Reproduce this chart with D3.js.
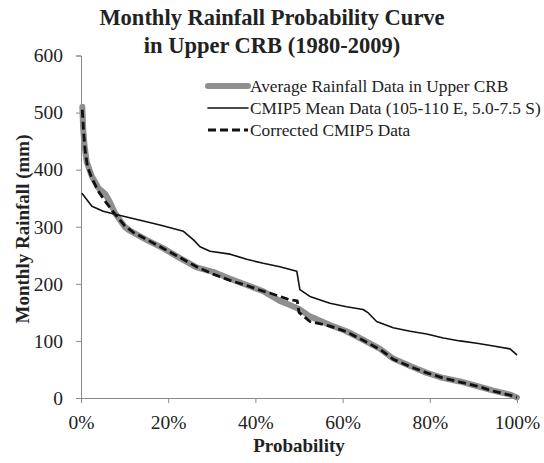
<!DOCTYPE html>
<html>
<head>
<meta charset="utf-8">
<script src="https://cdn.jsdelivr.net/npm/d3@7"></script>
<style>
  body { margin: 0; background: #fff; }
  svg text { font-family: "Liberation Serif", "Times New Roman", Times, serif; fill: #222; }
</style>
</head>
<body>
<svg id="chart" width="544" height="463"></svg>
<script>
// [probability %, rainfall mm]
const observed = [
  [0.3, 510], [0.5, 472], [0.8, 443], [1.3, 414], [2.5, 388], [4, 368], [5.5, 358],
  [6.5, 345], [7.8, 324], [8.9, 312], [10, 300], [11.2, 293], [15, 277], [18.9, 262],
  [22.7, 245], [26.5, 229], [30.3, 221], [34.2, 209], [38, 198], [41.8, 187], [45.6, 170],
  [47.9, 163], [50, 156], [52.5, 143], [57.1, 128], [60.9, 117], [64.7, 102], [68.6, 86],
  [71.6, 69], [75.5, 56], [79.3, 44], [83.1, 35], [86.9, 29], [90.8, 21], [94.6, 13],
  [98.4, 6], [100, 1]
];
const cmipMean = [
  [0.3, 358], [2.5, 336], [5.1, 327], [7.8, 322], [14.3, 310], [18.1, 303], [23.5, 292],
  [25.8, 277], [27.3, 265], [29.6, 257], [34.2, 252], [38, 243], [41.8, 236], [45.6, 230],
  [49.5, 222], [50.2, 190], [52.5, 178], [57.1, 166], [60.9, 160], [64.7, 155], [65.9, 149],
  [67.8, 134], [71.6, 123], [75.5, 117], [79.3, 112], [83.1, 105], [86.9, 100], [90.8, 96],
  [94.6, 91], [98.4, 86], [99.9, 76]
];
const corrected = [
  [0.3, 505], [0.6, 465], [1, 430], [1.5, 405], [2.5, 385], [4, 362], [5.5, 345],
  [7.8, 322], [10, 302], [12, 290], [15, 278], [18.9, 262], [22.7, 246], [26.5, 230],
  [30.3, 217], [34.2, 206], [38, 197], [41.8, 187], [43.3, 184], [47.9, 172], [49.6, 170],
  [50, 150], [52.5, 134], [57.1, 126], [60.9, 116], [64.7, 101], [68.6, 85], [71.6, 68],
  [75.5, 55], [79.3, 44], [83.1, 35], [86.9, 28], [90.8, 21], [94.6, 12], [98.4, 5], [100, 1]
];

const yTicks = [0, 100, 200, 300, 400, 500, 600];
const xTicks = [0, 20, 40, 60, 80, 100];
const titleLines = ['Monthly Rainfall Probability Curve', 'in Upper CRB (1980-2009)'];
const legendLabels = [
  'Average Rainfall Data in Upper CRB',
  'CMIP5 Mean Data (105-110 E, 5.0-7.5 S)',
  'Corrected CMIP5 Data'
];

const SERIF = '"Liberation Serif", "Times New Roman", Times, serif';
const svg = d3.select('#chart');
const x = d3.scaleLinear().domain([0, 100]).range([81, 517]);
const y = d3.scaleLinear().domain([0, 600]).range([398, 55.5]);

// title
svg.append('text')
  .attr('text-anchor', 'middle').attr('font-family', SERIF)
  .attr('font-size', 22.5).attr('font-weight', 'bold')
  .selectAll('tspan').data(titleLines).join('tspan')
  .attr('x', 272).attr('y', (d, i) => 25 + i * 27.5)
  .text(d => d);

// axes
const yAxis = svg.append('g').attr('transform', `translate(${x(0)},0)`)
  .call(d3.axisLeft(y).tickValues(yTicks).tickSize(5).tickPadding(13));
const xAxis = svg.append('g').attr('transform', `translate(0,${y(0)})`)
  .call(d3.axisBottom(x).tickValues(xTicks).tickSize(5).tickPadding(12)
    .tickFormat(d => d + '%'));
for (const ax of [yAxis, xAxis]) {
  ax.attr('font-family', SERIF);
  ax.selectAll('.domain, line').attr('stroke', '#8a8a8a');
  ax.selectAll('text').attr('font-size', 19.5).attr('fill', '#222');
}

svg.append('text')
  .attr('x', 299).attr('y', 452).attr('text-anchor', 'middle').attr('font-family', SERIF)
  .attr('font-size', 19).attr('font-weight', 'bold').text('Probability');
svg.append('text')
  .attr('transform', 'translate(29,229) rotate(-90)').attr('text-anchor', 'middle')
  .attr('font-family', SERIF)
  .attr('font-size', 19).attr('font-weight', 'bold').text('Monthly Rainfall (mm)');

const line = d3.line().x(d => x(d[0])).y(d => y(d[1]));

const series = [
  { data: observed, stroke: '#8f8f8f', width: 6, dash: null },
  { data: cmipMean, stroke: '#111', width: 1.6, dash: null },
  { data: corrected, stroke: '#111', width: 2.8, dash: '8 4' }
];

svg.append('g').selectAll('path').data(series).join('path')
  .attr('d', d => line(d.data))
  .attr('fill', 'none')
  .attr('stroke', d => d.stroke)
  .attr('stroke-width', d => d.width)
  .attr('stroke-dasharray', d => d.dash)
  .attr('stroke-linejoin', 'round')
  .attr('stroke-linecap', d => d.dash ? 'butt' : 'round');

// legend
const legend = svg.append('g').selectAll('g').data(series).join('g')
  .attr('transform', (d, i) => `translate(0,${86 + i * 22})`);
legend.append('line')
  .attr('x1', 208).attr('x2', 248)
  .attr('stroke', d => d.stroke)
  .attr('stroke-width', d => d.width)
  .attr('stroke-dasharray', d => d.dash)
  .attr('stroke-linecap', d => d.dash ? 'butt' : 'round');
legend.append('text')
  .attr('x', 250).attr('y', 5.5)
  .attr('font-family', SERIF)
  .attr('font-size', 17.3)
  .text((d, i) => legendLabels[i]);
</script>
</body>
</html>
